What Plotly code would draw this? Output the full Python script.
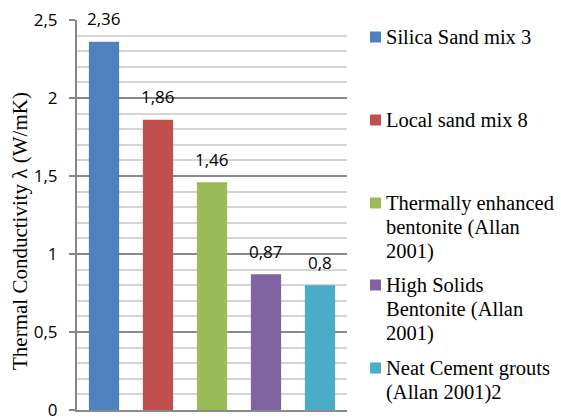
import plotly.graph_objects as go

categories = ["Silica Sand mix 3", "Local sand mix 8",
              "Thermally enhanced bentonite (Allan 2001)",
              "High Solids Bentonite (Allan 2001)",
              "Neat Cement grouts (Allan 2001)2"]
legend_lines = [["Silica Sand mix 3"],
                ["Local sand mix 8"],
                ["Thermally enhanced", "bentonite (Allan", "2001)"],
                ["High Solids", "Bentonite (Allan", "2001)"],
                ["Neat Cement grouts", "(Allan 2001)2"]]
values = [2.36, 1.86, 1.46, 0.87, 0.8]
colors = ["#4F81BD", "#C0504D", "#9BBB59", "#8064A2", "#4BACC6"]
y_ticks = [0, 0.5, 1, 1.5, 2, 2.5]
y_tick_labels = ["0", "0,5", "1", "1,5", "2", "2,5"]
y_title = "Thermal Conductivity λ (W/mK)"

# layout geometry (pixels)
W, H = 561, 420
L, R, T, B = 77, 347, 20, 410
legend_entry_top_px = [37, 120, 203, 285, 368]
legend_line_step_px = 24.3


def px_x(px):
    return (px - L) / (R - L)


def px_y(py):
    return (B - py) / (B - T)


fig = go.Figure()
for i, (cat, v, c) in enumerate(zip(categories, values, colors)):
    fig.add_trace(go.Bar(x=[i], y=[v], name=cat, marker=dict(color=c, line=dict(width=0)),
                         showlegend=False))
    fig.add_annotation(x=i, y=v, xref="x", yref="y", text=f"{v:g}".replace(".", ","),
                       showarrow=False, yanchor="middle", yshift=23,
                       font=dict(family="Open Sans", size=17, color="#000"))

# legend drawn manually to match the irregular spacing of the original
for lines, c, top in zip(legend_lines, colors, legend_entry_top_px):
    fig.add_shape(type="rect", xref="paper", yref="paper",
                  x0=px_x(370), x1=px_x(381), y0=px_y(top - 5.5), y1=px_y(top + 5.5),
                  fillcolor=c, line=dict(width=0))
    for k, line in enumerate(lines):
        fig.add_annotation(x=px_x(384), y=px_y(top + k * legend_line_step_px),
                           xref="paper", yref="paper", text=line, showarrow=False,
                           xanchor="left", yanchor="middle",
                           font=dict(family="Liberation Serif", size=20.5, color="#000"))

fig.add_annotation(x=px_x(20), y=px_y(231), xref="paper", yref="paper",
                   text=y_title, textangle=-90, showarrow=False,
                   xanchor="center", yanchor="middle",
                   font=dict(family="Liberation Serif", size=21, color="#000"))

fig.update_layout(
    width=W, height=H,
    margin=dict(l=L, r=W - R, t=T, b=H - B, autoexpand=False),
    paper_bgcolor="white", plot_bgcolor="white",
    bargap=0.44,
    showlegend=False,
    xaxis=dict(range=[-0.5, 4.5], showticklabels=False, showgrid=False,
               zeroline=False, showline=True, linecolor="#8a8a8a", linewidth=1.5,
               ticks="", automargin=False),
    yaxis=dict(range=[0, 2.5], tickvals=y_ticks, ticktext=y_tick_labels,
               ticks="outside", ticklen=6, tickcolor="#868686", tickwidth=1.5,
               tickfont=dict(family="Open Sans", size=17, color="#000"),
               ticklabelstandoff=8, ticklabeloverflow="allow", automargin=False,
               showgrid=True, gridcolor="#8a8a8a", gridwidth=1.5,
               minor=dict(dtick=0.1, showgrid=True, gridcolor="#d4d4d4", gridwidth=1.5),
               showline=True, linecolor="#868686", linewidth=2,
               zeroline=False),
)

fig.write_html("out.html", config={"displayModeBar": False},
               post_script="document.body.style.margin='0';document.body.style.overflow='hidden';")
